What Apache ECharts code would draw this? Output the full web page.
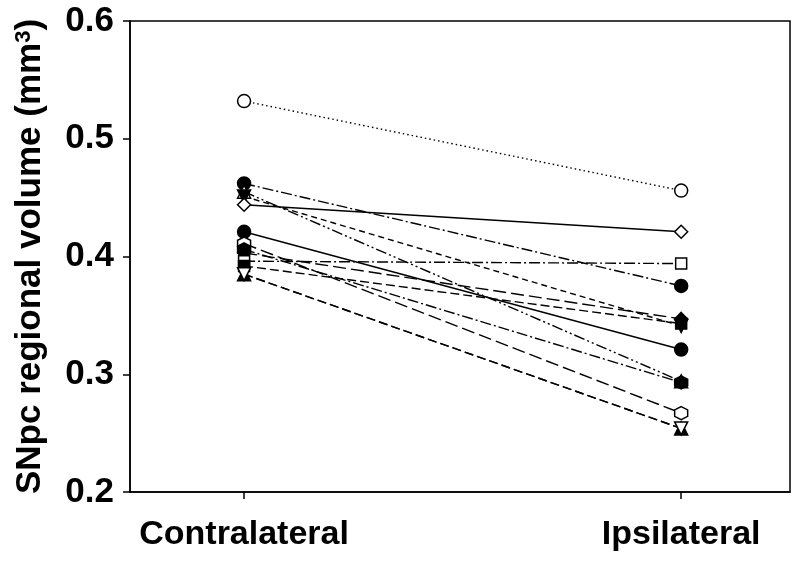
<!DOCTYPE html>
<html>
<head>
<meta charset="utf-8">
<script src="https://cdn.jsdelivr.net/npm/echarts@6/dist/echarts.min.js"></script>
<style>
  html, body { margin: 0; padding: 0; background: #fff; }
  #chart { width: 800px; height: 563px; }
</style>
</head>
<body>
<div id="chart"></div>
<script>
// two conditions, placed at x = 0 and x = 1
var sides = ['Contralateral', 'Ipsilateral']
var yTicks = [0.2, 0.3, 0.4, 0.5, 0.6]

// one pair of values per animal: [contralateral, ipsilateral]
var openCircle = [0.532, 0.456]
var filledCircleA = [0.462, 0.375]
var openTriUp = [0.455, 0.294]
var filledTriDown = [0.451, 0.341]
var openDiamond = [0.444, 0.421]
var filledCircleB = [0.421, 0.321]
var openHexagon = [0.411, 0.267]
var filledDiamond = [0.403, 0.347]
var filledHexagon = [0.406, 0.293]
var openSquare = [0.396, 0.394]
var filledSquare = [0.392, 0.343]
var filledTriUp = [0.385, 0.254]
var openTriDown = [0.385, 0.254]

var HEX = 'path://M0,-10 L8.66,-5 L8.66,5 L0,10 L-8.66,5 L-8.66,-5 Z'

var DOT = [1.5, 3]
var DASHDOT = [11, 3, 2, 3]
var DASHDOTDOT = [11, 3, 2, 3, 2, 3]
var SHORT = [6, 4]
var LONG = [13, 5]
var MED = [9, 4]

function pair (vals) {
  return [[0, vals[0]], [1, vals[1]]]
}

function mkSeries (vals, symbol, filled, dash, rotate) {
  return {
    type: 'line',
    data: pair(vals),
    symbol: symbol,
    symbolSize: symbol === 'rect' ? 11 : 13,
    symbolRotate: rotate || 0,
    animation: false,
    lineStyle: { color: '#000', width: 1.4, type: dash },
    itemStyle: {
      color: filled ? '#000' : '#fff',
      borderColor: '#000',
      borderWidth: 1.5
    },
    z: 2
  }
}

var chart = echarts.init(document.getElementById('chart'))
chart.setOption({
  backgroundColor: '#fff',
  grid: {
    left: 130, right: 10, top: 21, bottom: 71,
    show: true, borderColor: '#000', borderWidth: 1.5
  },
  xAxis: {
    type: 'value',
    min: -0.261,
    max: 1.249,
    axisLine: { onZero: false, lineStyle: { color: '#000', width: 1.5 } },
    axisTick: { inside: false, length: 7, customValues: [0, 1], lineStyle: { color: '#000', width: 1.5 } },
    splitLine: { show: false },
    axisLabel: {
      customValues: [0, 1],
      formatter: function (v) { return v < 0.5 ? sides[0] : sides[1] },
      color: '#000',
      fontFamily: 'Liberation Sans, Arial, sans-serif',
      fontWeight: 'bold',
      fontSize: 34,
      margin: 26
    }
  },
  yAxis: {
    type: 'value',
    min: yTicks[0],
    max: yTicks[yTicks.length - 1],
    interval: 0.1,
    name: 'SNpc regional volume (mm{sup|3})',
    nameLocation: 'middle',
    nameGap: 82,
    nameTextStyle: {
      color: '#000',
      fontFamily: 'Liberation Sans, Arial, sans-serif',
      fontWeight: 'bold',
      fontSize: 35,
      rich: {
        sup: {
          fontFamily: 'Liberation Sans, Arial, sans-serif',
          fontWeight: 'bold',
          fontSize: 22,
          verticalAlign: 'top',
          padding: [0, 0, 12, 0]
        }
      }
    },
    axisLine: { show: true, onZero: false, lineStyle: { color: '#000', width: 1.5 } },
    axisTick: { show: true, inside: false, length: 7, lineStyle: { color: '#000', width: 1.5 } },
    splitLine: { show: false },
    axisLabel: {
      formatter: function (v) { return v.toFixed(1) },
      color: '#000',
      fontFamily: 'Liberation Sans, Arial, sans-serif',
      fontWeight: 'bold',
      fontSize: 35,
      margin: 16
    }
  },
  series: [
    mkSeries(openCircle, 'circle', false, DOT),
    mkSeries(filledCircleA, 'circle', true, DASHDOT),
    mkSeries(openTriUp, 'triangle', false, DASHDOTDOT),
    mkSeries(filledTriDown, 'triangle', true, SHORT, 180),
    mkSeries(openDiamond, 'diamond', false, 'solid'),
    mkSeries(filledCircleB, 'circle', true, 'solid'),
    mkSeries(openHexagon, HEX, false, LONG),
    mkSeries(filledDiamond, 'diamond', true, LONG),
    mkSeries(filledHexagon, HEX, true, DASHDOT),
    mkSeries(openSquare, 'rect', false, DASHDOT),
    mkSeries(filledSquare, 'rect', true, MED),
    mkSeries(filledTriUp, 'triangle', true, MED),
    mkSeries(openTriDown, 'triangle', false, MED, 180)
  ]
})
</script>
</body>
</html>
